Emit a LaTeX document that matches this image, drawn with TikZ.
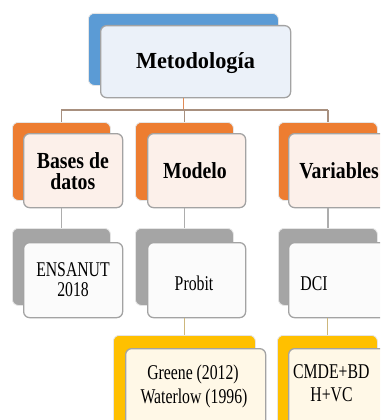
\documentclass[tikz,border=0pt]{standalone}
\usepackage{fontspec}
\setmainfont{Liberation Serif}
\newfontfamily\titlefont{Liberation Serif}[FakeStretch=0.97]
\newfontfamily\headfont{Liberation Serif}[FakeStretch=0.86]
\newfontfamily\itemfont{Liberation Serif}[FakeStretch=0.75]

\definecolor{blueback}{HTML}{5B9BD5}
\definecolor{bluefront}{HTML}{EBF1F9}
\definecolor{orangeback}{HTML}{ED7D31}
\definecolor{orangefront}{HTML}{FCF0EA}
\definecolor{grayback}{HTML}{A5A5A5}
\definecolor{grayfront}{HTML}{FBFBFB}
\definecolor{goldback}{HTML}{FFC000}
\definecolor{goldfront}{HTML}{FFF8E7}
\definecolor{frameline}{HTML}{A3A3A3}
\definecolor{busline}{HTML}{A8907F}
\definecolor{topline}{HTML}{E08A55}
\definecolor{grayline}{HTML}{ADADAD}
\definecolor{goldline}{HTML}{CDB77C}

\tikzset{
  backbox/.style={draw=white!80!gray, line width=0.8pt, rounded corners=6pt,
    inner sep=0pt, anchor=north west},
  frontbox/.style={draw=frameline, line width=1.3pt, rounded corners=6pt,
    inner sep=0pt, anchor=north west},
  titletxt/.style={anchor=base, inner sep=0pt, font=\titlefont\bfseries\fontsize{23}{25}\selectfont},
  headtxt/.style={anchor=base, inner sep=0pt, font=\headfont\bfseries\fontsize{23}{25}\selectfont},
  itemtxt/.style={anchor=base, inner sep=0pt, font=\itemfont\fontsize{21}{23}\selectfont},
  link/.style={line width=1.3pt},
}

\begin{document}
\begin{tikzpicture}[x=1pt,y=-1pt]
\useasboundingbox (0,0) rectangle (380,420);
\clip (0,0) rectangle (380,420);
\fill[white] (0,0) rectangle (380,420);

% root
\node[backbox, fill=blueback, minimum width=190pt, minimum height=72pt] (tback) at (88,13) {};
\node[frontbox, fill=bluefront, minimum width=190pt, minimum height=72pt] (tfront) at (100,25) {};
\node[titletxt] (ttext) at (195.5,68.3) {Metodología};

% second level (orange)
\node[backbox, fill=orangeback, minimum width=98pt, minimum height=78pt] (aback) at (12,122) {};
\node[frontbox, fill=orangefront, minimum width=99pt, minimum height=74pt] (afront) at (23,133) {};
\node[backbox, fill=orangeback, minimum width=98pt, minimum height=78pt] (bback) at (135,122) {};
\node[frontbox, fill=orangefront, minimum width=98pt, minimum height=74pt] (bfront) at (147,133) {};
\node[backbox, fill=orangeback, minimum width=99pt, minimum height=78pt] (cback) at (278,122) {};
\node[frontbox, fill=orangefront, minimum width=99pt, minimum height=74pt] (cfront) at (288,133) {};
\node[headtxt] (atext1) at (72.8,168.3) {Bases de};
\node[headtxt] (atext2) at (72.8,189.3) {datos};
\node[headtxt] (btext) at (195,178.3) {Modelo};
\node[headtxt] (ctext) at (339,178.3) {Variables};

% third level (gray)
\node[backbox, fill=grayback, minimum width=98pt, minimum height=77pt] (dback) at (12,228) {};
\node[frontbox, fill=grayfront, minimum width=99pt, minimum height=75pt] (dfront) at (23,242) {};
\node[backbox, fill=grayback, minimum width=98pt, minimum height=77pt] (eback) at (135,228) {};
\node[frontbox, fill=grayfront, minimum width=98pt, minimum height=75pt] (efront) at (147,242) {};
\node[backbox, fill=grayback, minimum width=99pt, minimum height=77pt] (fback) at (278,228) {};
\node[frontbox, fill=grayfront, minimum width=99pt, minimum height=75pt] (ffront) at (288,242) {};
\node[itemtxt] (dtext1) at (73,276.7) {ENSANUT};
\node[itemtxt] (dtext2) at (73,296.7) {2018};
\node[itemtxt] (etext) at (194,290.5) {Probit};
\node[itemtxt] (ftext) at (314,290.5) {DCI};

% fourth level (gold)
\node[backbox, fill=goldback, minimum width=142pt, minimum height=100pt] (gback) at (113,335) {};
\node[frontbox, fill=goldfront, minimum width=140pt, minimum height=90pt] (gfront) at (125,348) {};
\node[backbox, fill=goldback, minimum width=100pt, minimum height=100pt] (hback) at (277,335) {};
\node[frontbox, fill=goldfront, minimum width=100pt, minimum height=90pt] (hfront) at (288,348) {};
\node[itemtxt] (gtext1) at (193,379) {Greene (2012)};
\node[itemtxt] (gtext2) at (194,403.3) {Waterlow (1996)};
\node[itemtxt, anchor=base west] (htext1) at (293,378) {CMDE+BD};
\node[itemtxt] (htext2) at (331.5,401) {H+VC};

% connectors
\coordinate (bus) at (0,110);
\draw[link, topline] (tfront.south -| tback.center) -- (tback.center |- bus);
\draw[link, busline] (aback.north |- bus) -- (cback.north |- bus);
\draw[link, busline] (aback.north |- bus) -- (aback.north);
\draw[link, busline] (bback.north |- bus) -- (bback.north);
\draw[link, busline] (cback.north |- bus) -- (cback.north);
\draw[link, grayline] (afront.south -| aback.center) -- (dback.north);
\draw[link, grayline] (bfront.south -| bback.center) -- (eback.north);
\draw[link, grayline] (cfront.south -| cback.center) -- (fback.north);
\draw[link, goldline] (efront.south -| gback.center) -- (gback.north);
\draw[link, goldline] (ffront.south -| hback.center) -- (hback.north);
\end{tikzpicture}
\end{document}
